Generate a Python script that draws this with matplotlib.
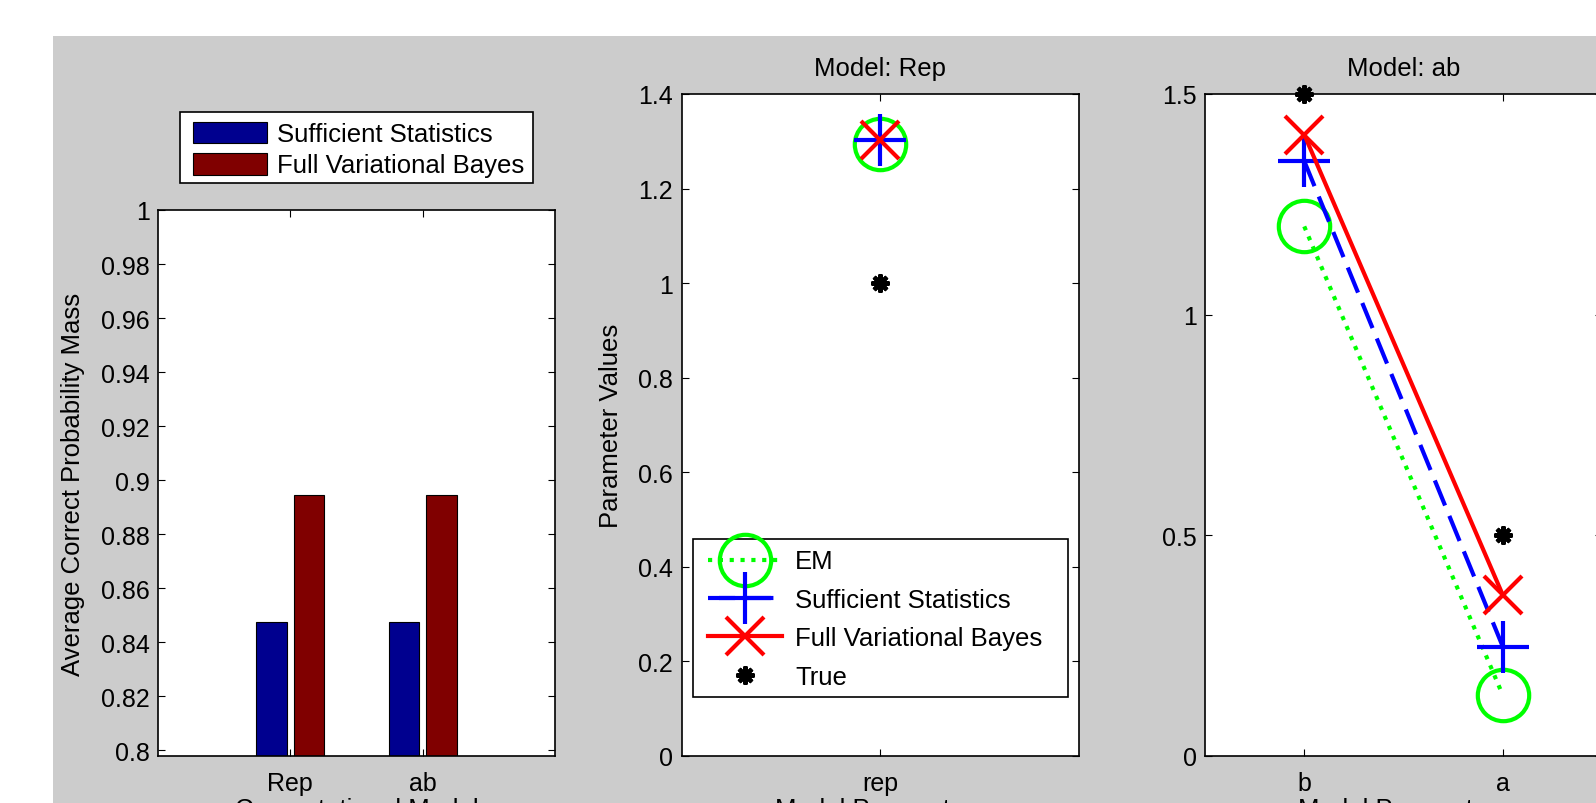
import matplotlib
matplotlib.use("Agg")
import matplotlib.pyplot as plt
from matplotlib.patches import Rectangle
import numpy as np

plt.rcParams['font.family'] = ['Liberation Sans', 'DejaVu Sans']
plt.rcParams['font.size'] = 18

# ---------------- data ----------------
models = ['Rep', 'ab']
suff_stats_mass = [0.8475, 0.8475]
full_vb_mass = [0.8945, 0.8945]

rep_params = ['rep']
rep_em = [1.295]
rep_ss = [1.302]
rep_fvb = [1.303]
rep_true = [1.0]

ab_params = ['b', 'a']
ab_em = [1.20, 0.138]
ab_ss = [1.348, 0.248]
ab_fvb = [1.408, 0.365]
ab_true = [1.5, 0.5]

W, H = 1596, 804
FS = 18.5
fig = plt.figure(figsize=(W / 100, H / 100), dpi=100, facecolor='white')
fig.patches.append(Rectangle((53 / W, 0), 1, 1 - 37 / H, transform=fig.transFigure,
                             facecolor='#cccccc', edgecolor='none', zorder=-10))


def frac(l, t, r, b):
    return [l / W, 1 - b / H, (r - l) / W, (b - t) / H]


def fpt(x, y):
    return (x / W, 1 - y / H)


def style(ax):
    ax.tick_params(direction='in', top=True, right=True, length=5, width=0.8,
                   labelsize=18, color='black')
    ax.tick_params(axis='x', pad=11)
    ax.tick_params(axis='y', pad=6)
    for s in ax.spines.values():
        s.set_linewidth(1.2)
        s.set_color('black')


def legend_box(ax, l, t, r, b):
    rect = Rectangle((l / W, 1 - b / H), (r - l) / W, (b - t) / H, transform=fig.transFigure,
                     facecolor='white', edgecolor='black', linewidth=1.2,
                     zorder=4.9, clip_on=False)
    ax.add_artist(rect)


# ---------------- panel 1 ----------------
ax1 = fig.add_axes(frac(158, 211, 555, 757))
x = np.arange(1, len(models) + 1)
off, bw = 0.143, 0.229
ax1.bar(x - off, suff_stats_mass, bw, color='#00008f', edgecolor='black', linewidth=0.8,
        label='Sufficient Statistics')
ax1.bar(x + off, full_vb_mass, bw, color='#800000', edgecolor='black', linewidth=0.8,
        label='Full Variational Bayes')
ax1.set_xlim(0, 3)
ax1.set_ylim(0.7978, 1.0)
ax1.set_xticks(x)
ax1.set_xticklabels(models)
ax1.set_yticks(np.round(np.arange(0.8, 1.0001, 0.02), 2))
ax1.set_yticklabels(['0.8', '0.82', '0.84', '0.86', '0.88', '0.9', '0.92', '0.94', '0.96', '0.98', '1'])
style(ax1)
ax1.set_ylabel('Average Correct Probability Mass', fontsize=FS, va='center')
ax1.yaxis.set_label_coords((73 - 158) / 397, 0.5)
ax1.set_xlabel('Computational Model', fontsize=FS, va='top')
ax1.xaxis.set_label_coords(0.5, (757 - 798) / 546)
legend_box(ax1, 180, 113, 533, 184)
leg1 = ax1.legend(loc='upper left', bbox_to_anchor=fpt(193, 122.5),
                  bbox_transform=fig.transFigure, frameon=False, fontsize=FS,
                  handlelength=74 / 25.7, handleheight=0.93,
                  handletextpad=0.4, borderpad=0, labelspacing=0.25, borderaxespad=0)

# ---------------- panel 2 ----------------
MS_O, MS_P, MS_X, LW = 37, 37, 27, 3.0
DOT = (0, (1, 1.6))
DASH = (0, (6.5, 2.7))
ax2 = fig.add_axes(frac(681.5, 95, 1079, 757))
xr = np.arange(1, len(rep_params) + 1)
ax2.plot(xr, rep_em, color='#00ff00', linestyle=DOT, lw=LW, marker='o',
         ms=MS_O, mfc='none', mew=LW, label='EM')
ax2.plot(xr, rep_ss, color='#0000ff', linestyle=DASH, lw=LW, marker='+',
         ms=MS_P, mew=LW, label='Sufficient Statistics')
ax2.plot(xr, rep_fvb, color='#ff0000', linestyle='-', lw=LW, marker='x',
         ms=MS_X, mew=LW, label='Full Variational Bayes')
ax2.plot(xr, rep_true, color='black', linestyle='none', marker=(8, 2, 0),
         ms=13, mew=3, label='True', clip_on=False)
ax2.set_xlim(0.5, 1.5)
ax2.set_ylim(0, 1.4)
ax2.set_xticks(xr)
ax2.set_xticklabels(rep_params)
ax2.set_yticks([0, 0.2, 0.4, 0.6, 0.8, 1.0, 1.2, 1.4])
ax2.set_yticklabels(['0', '0.2', '0.4', '0.6', '0.8', '1', '1.2', '1.4'])
style(ax2)
ax2.set_title('Model: Rep', fontsize=FS, pad=14)
ax2.set_ylabel('Parameter Values', fontsize=FS, va='center')
ax2.yaxis.set_label_coords((611 - 681.5) / 397.5, 0.5)
ax2.set_xlabel('Model Parameters', fontsize=FS, va='top')
ax2.xaxis.set_label_coords(0.5, (757 - 798) / 662)
legend_box(ax2, 693, 540, 1068, 698)
leg2 = ax2.legend(loc='upper left', bbox_to_anchor=fpt(708, 550.5),
                  bbox_transform=fig.transFigure, frameon=False, fontsize=FS,
                  handlelength=74 / 25.7, handletextpad=13 / 25.7, borderpad=0,
                  labelspacing=0.56, borderaxespad=0, numpoints=1)

# ---------------- panel 3 ----------------
ax3 = fig.add_axes(frac(1205, 95, 1602, 757))
xa = np.arange(1, len(ab_params) + 1)
ax3.plot(xa, ab_em, color='#00ff00', linestyle=DOT, lw=LW, marker='o',
         ms=MS_O, mfc='none', mew=LW, label='EM')
ax3.plot(xa, ab_ss, color='#0000ff', linestyle=DASH, lw=LW, marker='+',
         ms=MS_P, mew=LW, label='Sufficient Statistics')
ax3.plot(xa, ab_fvb, color='#ff0000', linestyle='-', lw=LW, marker='x',
         ms=MS_X, mew=LW, label='Full Variational Bayes')
ax3.plot(xa, ab_true, color='black', linestyle='none', marker=(8, 2, 0),
         ms=13, mew=3, label='True', clip_on=False)
ax3.set_xlim(0.5, 2.5)
ax3.set_ylim(0, 1.5)
ax3.set_xticks(xa)
ax3.set_xticklabels(ab_params)
ax3.set_yticks([0, 0.5, 1.0, 1.5])
ax3.set_yticklabels(['0', '0.5', '1', '1.5'])
style(ax3)
ax3.set_title('Model: ab', fontsize=FS, pad=14)
ax3.set_xlabel('Model Parameters', fontsize=FS, va='top')
ax3.xaxis.set_label_coords(0.5, (757 - 798) / 662)

fig.savefig('out.png', dpi=100, facecolor='white')
